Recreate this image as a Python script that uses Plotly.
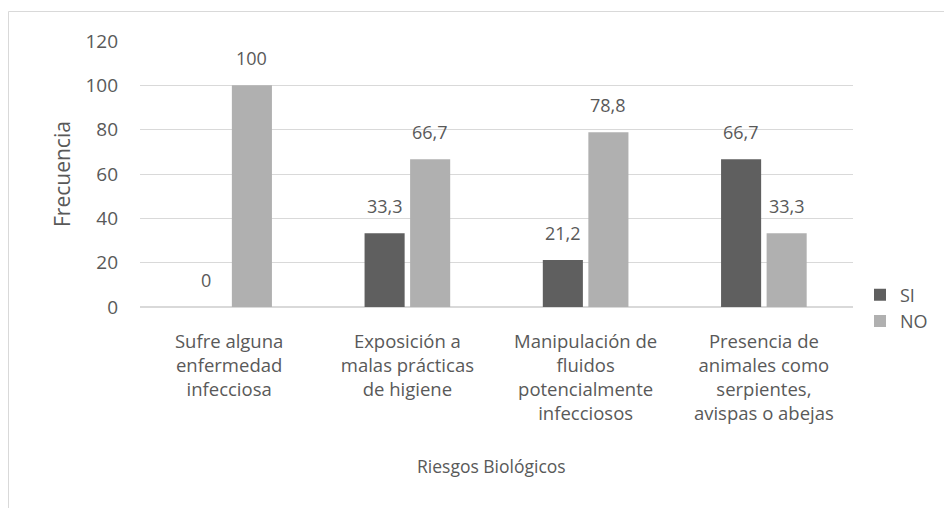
import plotly.graph_objects as go

categories = [
    "Sufre alguna<br>enfermedad<br>infecciosa",
    "Exposición a<br>malas prácticas<br>de higiene",
    "Manipulación de<br>fluidos<br>potencialmente<br>infecciosos",
    "Presencia de<br>animales como<br>serpientes,<br>avispas o abejas",
]
si_values = [0, 33.3, 21.2, 66.7]
no_values = [100, 66.7, 78.8, 33.3]
y_ticks = [0, 20, 40, 60, 80, 100, 120]

def fmt(v):
    return f"{v:g}".replace(".", ",")

FONT = "Open Sans, Noto Sans, sans-serif"
TXT = "#595959"

fig = go.Figure()
fig.add_trace(go.Bar(
    name="SI", x=categories, y=si_values,
    marker=dict(color="#5f5f5f", line=dict(width=0)),
))
fig.add_trace(go.Bar(
    name="NO", x=categories, y=no_values,
    marker=dict(color="#b0b0b0", line=dict(width=0)),
))

# page has an 8px body margin: figure coords = page coords - 8
OFF = 8
W, H = 944, 500
ML, MT = 132, 33
PW, PH = 713, 266
MR, MB = W - ML - PW, H - MT - PH
BARGAP, GROUPGAP = 0.489, 0.12

def px(x):
    return (x - OFF - ML) / PW

def py(y):
    return (H - MB - (y - OFF)) / PH

# data labels above bars (offset of each series' slot within its group)
cat_w = PW / len(categories)
slot = cat_w * (1 - BARGAP) / 2
label_annots = []
for vals, sgn in ((si_values, -1), (no_values, 1)):
    for c, v in zip(categories, vals):
        label_annots.append(dict(
            x=c, y=v, xref="x", yref="y", text=fmt(v), showarrow=False,
            xanchor="center", yanchor="bottom", xshift=sgn * slot / 2, yshift=13,
            font=dict(family=FONT, size=18, color=TXT)))

fig.update_layout(
    width=W, height=H,
    margin=dict(l=ML, r=MR, t=MT, b=MB, autoexpand=False),
    paper_bgcolor="white", plot_bgcolor="white",
    barmode="group", bargap=BARGAP, bargroupgap=GROUPGAP,
    font=dict(family=FONT, size=18, color=TXT),
    showlegend=True,
    legend=dict(x=px(860), y=py(308), xanchor="left", yanchor="middle",
                font=dict(family=FONT, size=18, color=TXT),
                bgcolor="rgba(0,0,0,0)", itemwidth=30),
    xaxis=dict(showgrid=False, showline=True, linecolor="#d9d9d9", linewidth=1,
               ticks="", tickfont=dict(family=FONT, size=18.5, color=TXT),
               ticklabelstandoff=18, automargin=False),
    yaxis=dict(range=[0, 120], tickvals=y_ticks, showgrid=True, gridcolor="#d9d9d9",
               gridwidth=1, zeroline=True, zerolinecolor="#d9d9d9", showline=False,
               ticks="", tickfont=dict(family=FONT, size=19, color=TXT),
               ticklabelstandoff=21, automargin=False),
    shapes=[dict(type="rect", xref="paper", yref="paper",
                 x0=px(8.5), x1=px(1000), y0=py(560), y1=py(11.5),
                 line=dict(color="#d9d9d9", width=1), fillcolor="rgba(0,0,0,0)",
                 layer="below")],
    annotations=label_annots + [
        dict(text="Frecuencia", xref="paper", yref="paper", x=px(62), y=py(174),
             textangle=-90, showarrow=False, font=dict(family=FONT, size=21, color=TXT),
             xanchor="center", yanchor="middle"),
        dict(text="Riesgos Biológicos", xref="paper", yref="paper", x=px(491), y=py(466),
             showarrow=False, font=dict(family=FONT, size=17.5, color=TXT),
             xanchor="center", yanchor="middle"),
    ],
)

fig.write_html("out.html")
